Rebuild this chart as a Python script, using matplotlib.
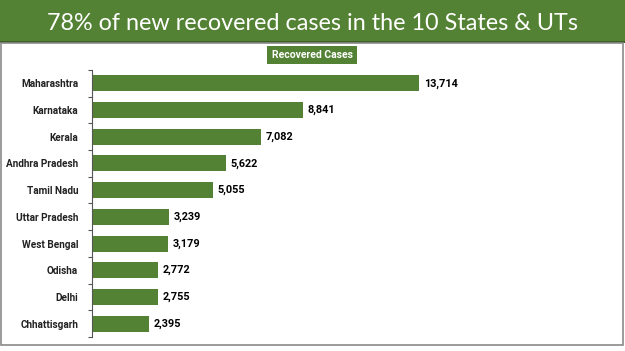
import matplotlib
matplotlib.use("Agg")
import matplotlib.pyplot as plt
from matplotlib.patches import Rectangle

states = ["Maharashtra", "Karnataka", "Kerala", "Andhra Pradesh", "Tamil Nadu",
          "Uttar Pradesh", "West Bengal", "Odisha", "Delhi", "Chhattisgarh"]
recovered = [13714, 8841, 7082, 5622, 5055, 3239, 3179, 2772, 2755, 2395]
title = "78% of new recovered cases in the 10 States & UTs"
series_name = "Recovered Cases"

green = "#548235"
W, H = 625, 351
font = "Roboto"

fig = plt.figure(figsize=(W / 100, H / 100), dpi=100)
fig.patch.set_facecolor("white")

# header band
fig.patches.append(Rectangle((0, 1 - 42 / H), 1, 42 / H, transform=fig.transFigure,
                             facecolor=green, edgecolor="none", zorder=0))
fig.patches.append(Rectangle((0, 1 - 43 / H), 1, 2 / H, transform=fig.transFigure,
                             facecolor="#3d5e26", edgecolor="none", zorder=1))
# panel border
fig.patches.append(Rectangle((1.5 / W, 1 - 345 / H), 621.5 / W, 302 / H,
                             transform=fig.transFigure, facecolor="none",
                             edgecolor="#8a8a8a", linewidth=1.2, zorder=1))

fig.text(0.5, 1 - 23 / H, title, ha="center", va="center", color="white",
         fontsize=16.8, family="Lato")

ax = fig.add_axes([92 / W, 1 - 337 / H, 508 / W, 267 / H])
y = list(range(len(states)))
ax.barh(y, recovered, height=0.6, color=green)
ax.set_ylim(len(states) - 0.5, -0.5)
ax.set_xlim(0, 13714 * 508 / 327)

for yi, v in zip(y, recovered):
    ax.text(v + 200, yi, f"{v:,}", va="center", ha="left", fontsize=7.8,
            fontweight="bold", family=font, color="black")

ax.set_yticks(y)
ax.set_yticklabels(states, fontsize=7.2, fontweight="bold", family=font, color="#222222")
ax.tick_params(axis="y", which="major", length=0, pad=10)
ax.set_yticks([i - 0.5 for i in range(len(states) + 1)], minor=True)
ax.tick_params(axis="y", which="minor", length=3, color="#555555", width=0.8)
ax.set_xticks([])
for s in ["top", "right", "bottom"]:
    ax.spines[s].set_visible(False)
ax.spines["left"].set_color("#555555")
ax.spines["left"].set_linewidth(0.8)

fig.text(312 / W, 1 - 55 / H, series_name, ha="center", va="center", color="white",
         fontsize=7.5, fontweight="bold", family=font,
         bbox=dict(boxstyle="square,pad=0.4", facecolor=green, edgecolor="none"))

fig.savefig("out.png", dpi=100)
